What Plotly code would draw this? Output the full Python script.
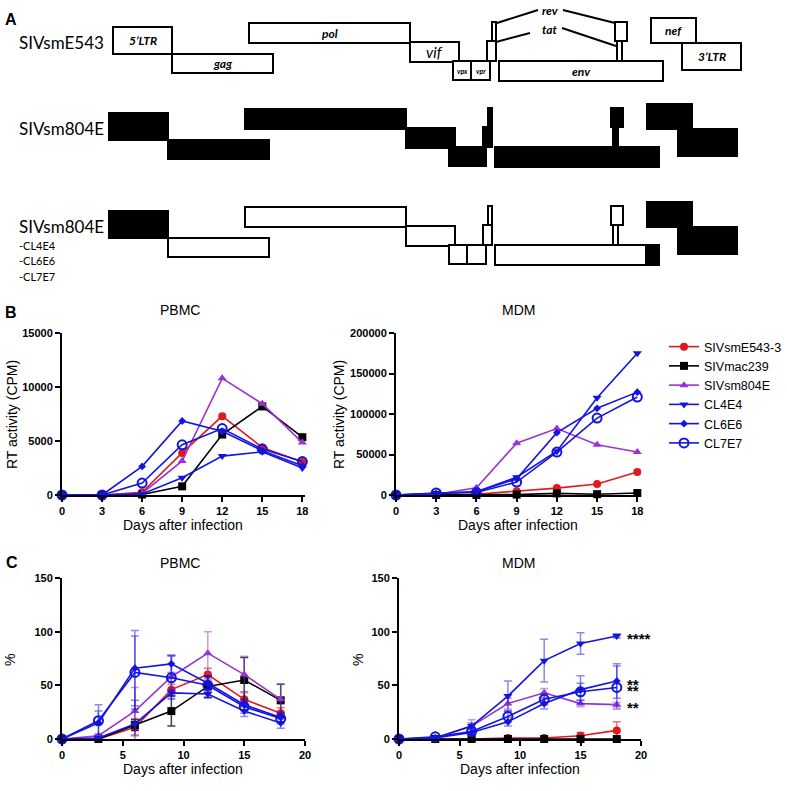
import plotly.graph_objects as go

W, H = 787, 791

# ---- data ----
days = [0, 3, 6, 9, 12, 15, 18]
names = ["SIVsmE543-3", "SIVmac239", "SIVsm804E", "CL4E4", "CL6E6", "CL7E7"]

# B: RT activity (CPM), one list per virus in the order of names
rt_pbmc = [
    [0, 0, 250, 3900, 7300, 4400, 3050],
    [0, 0, 50, 800, 5600, 8200, 5350],
    [0, 0, 150, 3150, 10800, 8450, 4850],
    [0, 0, 100, 1600, 3600, 4000, 2500],
    [0, 0, 2650, 6850, 5900, 4100, 2700],
    [0, 0, 1100, 4650, 6150, 4250, 3100],
]
rt_mdm = [
    [0, 0, 1000, 4500, 8500, 13500, 28500],
    [0, 0, 0, 500, 2000, 1000, 2500],
    [0, 1000, 9000, 64000, 82000, 62000, 53000],
    [0, 2000, 4000, 22000, 54000, 120000, 175000],
    [0, 2000, 4000, 20000, 77000, 107000, 127000],
    [0, 2500, 3000, 16000, 53000, 95000, 121000],
]

# C: % infected, mean and SD
pct_pbmc = [
    [0, 0, 11, 46, 60, 37, 24],
    [0, 0, 13, 26, 49, 55, 36],
    [0, 3, 26, 58, 80, 60, 37],
    [0, 1, 14, 43, 42, 26, 15],
    [0, 15, 66, 70, 52, 32, 20],
    [0, 17, 62, 57, 50, 30, 19],
]
pct_pbmc_sd = [
    [0, 0, 8, 5, 6, 7, 5],
    [0, 0, 5, 14, 10, 21, 15],
    [0, 2, 22, 20, 20, 17, 14],
    [0, 1, 22, 3, 4, 5, 5],
    [0, 11, 35, 8, 6, 5, 5],
    [0, 15, 34, 20, 6, 6, 5],
]
pct_mdm = [
    [0, 0, 0, 1, 1, 3, 8],
    [0, 0, 0, 0, 0, 0, 0],
    [0, 1, 12, 33, 43, 33, 32],
    [0, 1, 12, 40, 73, 89, 96],
    [0, 1, 6, 16, 33, 46, 54],
    [0, 2, 7, 21, 37, 44, 48],
]
pct_mdm_sd = [
    [0, 0, 0, 1, 1, 3, 8],
    [0, 0, 0, 0, 0, 0, 0],
    [0, 1, 6, 5, 4, 3, 2],
    [0, 1, 3, 14, 20, 10, 2],
    [0, 1, 3, 4, 5, 13, 16],
    [0, 1, 3, 5, 5, 8, 20],
]
stars = ["****", "**", "**", "**"]
star_series = ["CL4E4", "CL6E6", "CL7E7", "SIVsm804E"]

# A: genome map (positions along the map)
genes = ["5'LTR", "gag", "pol", "vif", "vpx", "vpr", "tat", "rev", "env", "rev", "tat", "nef", "3'LTR"]
gene_start = [109, 168, 245, 406, 449, 467, 483, 488, 495, 611, 613, 647, 678]
gene_end = [168, 269, 406, 455, 467, 486, 492, 492, 659, 623, 618, 692, 737]
gene_top = [27, 54, 23, 42, 61, 61, 41, 22, 61, 22, 41, 18, 43]
gene_bottom = [54, 73, 43, 62, 80, 80, 61, 41, 81, 41, 61, 43, 70]
clone_804e_genes = ["5'LTR", "nef", "3'LTR"]
clone_804e_env_tail = [646, 659]

colors = ["#e0191e", "#000000", "#9a34d0", "#1414e0", "#1414e0", "#1414e0"]
symbols = ["circle", "square", "triangle-up", "triangle-down", "diamond", "circle-open"]
msizes = [8, 8, 8, 8, 6, 9]
err_colors = ["rgba(224,25,30,0.6)", "rgba(0,0,0,0.75)", "rgba(154,52,208,0.5)",
              "rgba(20,20,224,0.5)", "rgba(20,20,224,0.5)", "rgba(20,20,224,0.5)"]


def fx(px):
    return px / W


def fy(py):
    return 1 - py / H


fig = go.Figure()

panels = [
    ("x", "y", rt_pbmc, None),
    ("x2", "y2", rt_mdm, None),
    ("x3", "y3", pct_pbmc, pct_pbmc_sd),
    ("x4", "y4", pct_mdm, pct_mdm_sd),
]
for p, (xa, ya, vals, sds) in enumerate(panels):
    for i, name in enumerate(names):
        err = None
        if sds is not None:
            err = dict(type="data", array=sds[i], color=err_colors[i], thickness=1.5, width=4)
        fig.add_trace(go.Scatter(
            x=days, y=vals[i], xaxis=xa, yaxis=ya, name=name, legendgroup=name,
            showlegend=(p == 1), mode="lines+markers", cliponaxis=False,
            line=dict(color=colors[i], width=1.6),
            marker=dict(symbol=symbols[i], size=msizes[i], color=colors[i],
                        line=dict(color=colors[i], width=2 if i == 5 else 0)),
            error_y=err))

tickfont = dict(family="Liberation Sans", size=11, color="black", weight="bold")
ax = dict(showline=True, linecolor="black", linewidth=2, ticks="outside", ticklen=5,
          tickwidth=2, tickcolor="black", showgrid=False, zeroline=False, tickfont=tickfont,
          tickformat="d", automargin=False)

fig.update_layout(
    template="none",
    width=W, height=H, margin=dict(l=0, r=0, t=0, b=0, pad=0),
    plot_bgcolor="white", paper_bgcolor="white",
    xaxis=dict(ax, domain=[fx(62), fx(305)], range=[0, 18.2], tickvals=days, anchor="y"),
    yaxis=dict(ax, domain=[fy(495), fy(333)], range=[0, 15000], tickvals=[0, 5000, 10000, 15000], anchor="x"),
    xaxis2=dict(ax, domain=[fx(396), fx(640)], range=[0, 18.2], tickvals=days, anchor="y2"),
    yaxis2=dict(ax, domain=[fy(495), fy(333)], range=[0, 200000],
                tickvals=[0, 50000, 100000, 150000, 200000], anchor="x2"),
    xaxis3=dict(ax, domain=[fx(62), fx(305)], range=[0, 20], tickvals=[0, 5, 10, 15, 20], anchor="y3"),
    yaxis3=dict(ax, domain=[fy(739), fy(578)], range=[0, 150], tickvals=[0, 50, 100, 150], anchor="x3"),
    xaxis4=dict(ax, domain=[fx(399), fx(641)], range=[0, 20], tickvals=[0, 5, 10, 15, 20], anchor="y4"),
    yaxis4=dict(ax, domain=[fy(739), fy(578)], range=[0, 150], tickvals=[0, 50, 100, 150], anchor="x4"),
    xaxis5=dict(domain=[0, 1], range=[0, W], visible=False, anchor="y5"),
    yaxis5=dict(domain=[fy(280), 1], range=[280, 0], visible=False, anchor="x5"),
    legend=dict(x=1, y=fy(332), xanchor="right", yanchor="top", itemwidth=30,
                font=dict(family="Liberation Sans", size=12.5, color="black"),
                tracegroupgap=0, bgcolor="rgba(0,0,0,0)", borderwidth=0),
)

# ---- panel A: genome map ----
row_names = ["SIVsmE543", "SIVsm804E", "SIVsm804E"]
row_dy = [0, 86, 184]
row_dx = [4, 0, 0]
for r in range(3):
    for g in range(len(genes)):
        if r == 0:
            fill = "white"
        elif r == 1:
            fill = "black"
        else:
            fill = "black" if genes[g] in clone_804e_genes else "white"
        fig.add_shape(type="rect", xref="x5", yref="y5",
                      x0=gene_start[g] + row_dx[r], x1=gene_end[g] + row_dx[r],
                      y0=gene_top[g] + row_dy[r], y1=gene_bottom[g] + row_dy[r],
                      fillcolor=fill, line=dict(color="black", width=2))
env_i = genes.index("env")
fig.add_shape(type="rect", xref="x5", yref="y5",
              x0=clone_804e_env_tail[0], x1=clone_804e_env_tail[1],
              y0=gene_top[env_i] + row_dy[2], y1=gene_bottom[env_i] + row_dy[2],
              fillcolor="black", line=dict(color="black", width=2))

# gene labels on top row
label_size = {"vif": 15, "vpx": 7, "vpr": 7}
for g in range(len(genes)):
    if genes[g] in ("tat", "rev"):
        continue
    cx = (gene_start[g] + gene_end[g]) / 2 + row_dx[0]
    cy = (gene_top[g] + gene_bottom[g]) / 2
    txt = "<i>vif</i>" if genes[g] == "vif" else "<b><i>%s</i></b>" % genes[g].replace("'", "\u2019")
    fig.add_annotation(x=cx, y=cy, xref="x5", yref="y5", text=txt, showarrow=False,
                       font=dict(family="Lato", size=label_size.get(genes[g], 12), color="black"))

for txt, ty in [("rev", 10), ("tat", 29)]:
    fig.add_annotation(x=550, y=ty, xref="x5", yref="y5", text="<b><i>%s</i></b>" % txt,
                       showarrow=False, font=dict(family="Lato", size=12, color="black"))
for x0, y0, x1, y1 in [(538, 10, 497, 23), (563, 10, 615, 23), (530, 33, 496, 42), (562, 28, 616, 46)]:
    fig.add_shape(type="line", xref="x5", yref="y5", x0=x0, y0=y0, x1=x1, y1=y1,
                  line=dict(color="black", width=2))

for r in range(3):
    fig.add_annotation(x=17, y=gene_top[0] + row_dy[r] + 15, xref="x5", yref="y5", text=row_names[r],
                       xanchor="left", showarrow=False, font=dict(family="Lato", size=17, color="black"))
for k, clone in enumerate(["CL4E4", "CL6E6", "CL7E7"]):
    fig.add_annotation(x=17, y=245 + 15.5 * k, xref="x5", yref="y5", text="-" + clone,
                       xanchor="left", showarrow=False, font=dict(family="Lato", size=11, color="black"))


# ---- text for charts ----
def note(x, y, text, size=14, angle=0, bold=False, xanchor="center"):
    fig.add_annotation(x=fx(x), y=fy(y), xref="paper", yref="paper", text=text, showarrow=False,
                       textangle=angle, xanchor=xanchor, yanchor="middle",
                       font=dict(family="Liberation Sans", size=size, color="black",
                                 weight="bold" if bold else "normal"))


note(11, 20, "A", 16, bold=True)
note(11, 312, "B", 16, bold=True)
note(12, 562, "C", 16, bold=True)
for cx in (180, 518):
    note(cx, 310, "PBMC" if cx == 180 else "MDM", 14)
    note(cx, 563, "PBMC" if cx == 180 else "MDM", 14)
note(183, 525, "Days after infection", 14)
note(518, 525, "Days after infection", 14)
note(183, 769, "Days after infection", 14)
note(520, 769, "Days after infection", 14)
note(12, 415, "RT activity (CPM)", 14, angle=-90)
note(339, 415, "RT activity (CPM)", 14, angle=-90)
note(10, 660, "%", 14, angle=-90)
note(358, 660, "%", 14, angle=-90)

for s, series in zip(stars, star_series):
    i = names.index(series)
    fig.add_annotation(x=18, y=pct_mdm[i][-1], xref="x4", yref="y4", text=s, showarrow=False,
                       xanchor="left", yanchor="middle", xshift=8, yshift=-3,
                       font=dict(family="Liberation Sans", size=15, color="black", weight="bold"))

fig.write_html("out.html", config={"displayModeBar": False},
               post_script="document.body.style.margin='0';")
